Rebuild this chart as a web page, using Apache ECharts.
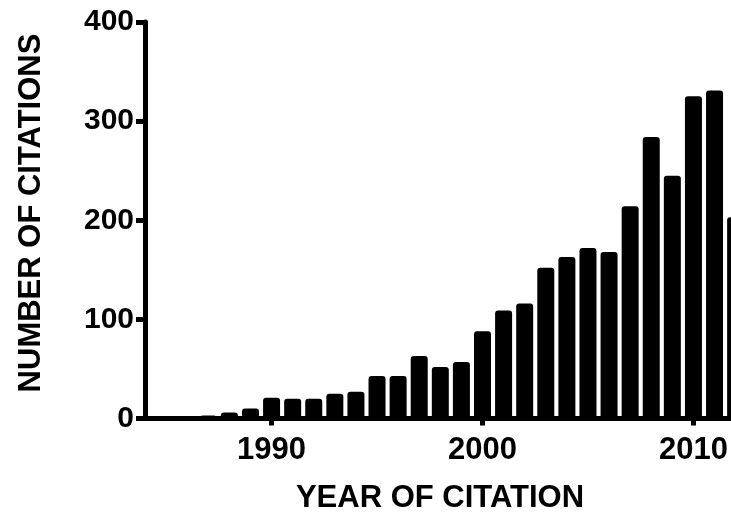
<!DOCTYPE html>
<html>
<head>
<meta charset="utf-8">
<script src="https://cdn.jsdelivr.net/npm/echarts@6/dist/echarts.min.js"></script>
<style>
html,body{margin:0;padding:0;background:#fff;}
#chart{width:731px;height:513px;}
</style>
</head>
<body>
<div id="chart"></div>
<script>
const years = [1985,1986,1987,1988,1989,1990,1991,1992,1993,1994,1995,1996,1997,1998,1999,2000,2001,2002,2003,2004,2005,2006,2007,2008,2009,2010,2011,2012];
const citations = [0,0,3,6,10,21,20,20,25,27,43,43,63,52,57,88,109,116,152,163,172,168,214,284,245,325,331,203];
const xTicks = [1990,2000,2010];
const yTicks = [0,100,200,300,400];

const FONT = '"Liberation Sans", Arial, Helvetica, sans-serif';
const chart = echarts.init(document.getElementById('chart'), null, {renderer:'canvas'});
chart.setOption({
  animation:false,
  backgroundColor:'#ffffff',
  title:{
    text:'YEAR OF CITATION',
    left:435, top:478, textAlign:'center',
    textStyle:{fontFamily:FONT, fontWeight:'bold', fontSize:31, color:'#000'}
  },
  graphic:[{
    type:'text', x:31, y:213, rotation:Math.PI/2,
    style:{text:'NUMBER OF CITATIONS', fontFamily:FONT, fontWeight:'bold', fontSize:31,
      fill:'#000', align:'center', verticalAlign:'middle'}
  }],
  grid:{left:145, top:22, width:675, height:396.5, containLabel:false, outerBoundsMode:'none'},
  xAxis:{
    type:'value', min:1984, max:2016,
    axisLine:{show:true, onZero:false, lineStyle:{color:'#000', width:5}},
    axisTick:{show:true, customValues:xTicks, length:7, lineStyle:{color:'#000', width:5}},
    axisLabel:{customValues:xTicks, color:'#000', fontFamily:FONT, fontWeight:'bold', fontSize:31, margin:16,
      formatter: v => String(v)},
    splitLine:{show:false}
  },
  yAxis:{
    type:'value', min:0, max:400, interval:100,
    axisLine:{show:true, lineStyle:{color:'#000', width:5}},
    axisTick:{show:true, length:9, lineStyle:{color:'#000', width:5}},
    axisLabel:{color:'#000', fontFamily:FONT, fontWeight:'bold', fontSize:30, margin:11},
    splitLine:{show:false}
  },
  series:[{
    type:'bar',
    data: years.map((y,i)=>[y, citations[i]]),
    barWidth:17,
    itemStyle:{color:'#000', borderRadius:[3,3,0,0]}
  }]
});
</script>
</body>
</html>
